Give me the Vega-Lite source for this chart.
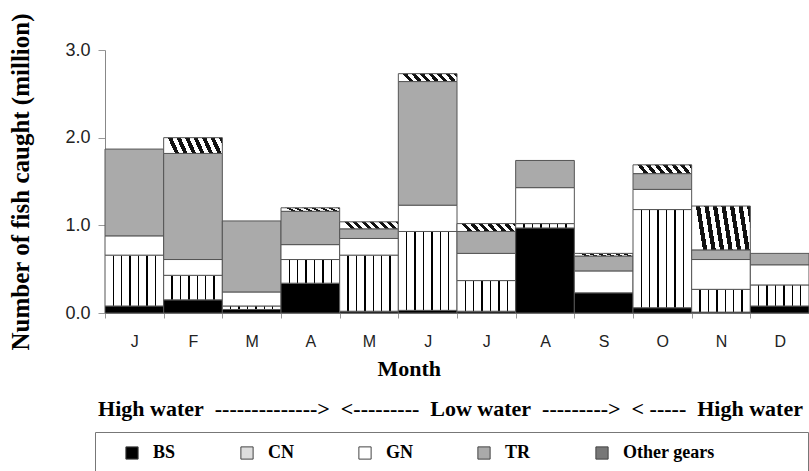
{
  "$schema": "https://vega.github.io/schema/vega-lite/v6.json",
  "width": 704,
  "height": 263,
  "autosize": {"type": "none"},
  "padding": {"left": 105, "top": 50, "right": 0, "bottom": 158},
  "background": "white",
  "config": {"view": {"stroke": null}},
  "data": {
    "values": [
      {"month": "Jan", "gear": "BS", "catch": 0.08},
      {"month": "Jan", "gear": "CN", "catch": 0.58},
      {"month": "Jan", "gear": "GN", "catch": 0.22},
      {"month": "Jan", "gear": "TR", "catch": 0.99},
      {"month": "Feb", "gear": "BS", "catch": 0.15},
      {"month": "Feb", "gear": "CN", "catch": 0.28},
      {"month": "Feb", "gear": "GN", "catch": 0.18},
      {"month": "Feb", "gear": "TR", "catch": 1.21},
      {"month": "Feb", "gear": "Other gears", "catch": 0.18},
      {"month": "Mar", "gear": "BS", "catch": 0.04},
      {"month": "Mar", "gear": "CN", "catch": 0.04},
      {"month": "Mar", "gear": "GN", "catch": 0.16},
      {"month": "Mar", "gear": "TR", "catch": 0.81},
      {"month": "Apr", "gear": "BS", "catch": 0.34},
      {"month": "Apr", "gear": "CN", "catch": 0.27},
      {"month": "Apr", "gear": "GN", "catch": 0.17},
      {"month": "Apr", "gear": "TR", "catch": 0.38},
      {"month": "Apr", "gear": "Other gears", "catch": 0.04},
      {"month": "May", "gear": "BS", "catch": 0.02},
      {"month": "May", "gear": "CN", "catch": 0.64},
      {"month": "May", "gear": "GN", "catch": 0.19},
      {"month": "May", "gear": "TR", "catch": 0.11},
      {"month": "May", "gear": "Other gears", "catch": 0.08},
      {"month": "Jun", "gear": "BS", "catch": 0.03},
      {"month": "Jun", "gear": "CN", "catch": 0.90},
      {"month": "Jun", "gear": "GN", "catch": 0.30},
      {"month": "Jun", "gear": "TR", "catch": 1.41},
      {"month": "Jun", "gear": "Other gears", "catch": 0.09},
      {"month": "Jul", "gear": "BS", "catch": 0.02},
      {"month": "Jul", "gear": "CN", "catch": 0.35},
      {"month": "Jul", "gear": "GN", "catch": 0.31},
      {"month": "Jul", "gear": "TR", "catch": 0.25},
      {"month": "Jul", "gear": "Other gears", "catch": 0.09},
      {"month": "Aug", "gear": "BS", "catch": 0.97},
      {"month": "Aug", "gear": "CN", "catch": 0.05},
      {"month": "Aug", "gear": "GN", "catch": 0.41},
      {"month": "Aug", "gear": "TR", "catch": 0.31},
      {"month": "Sep", "gear": "BS", "catch": 0.23},
      {"month": "Sep", "gear": "GN", "catch": 0.25},
      {"month": "Sep", "gear": "TR", "catch": 0.17},
      {"month": "Sep", "gear": "Other gears", "catch": 0.03},
      {"month": "Oct", "gear": "BS", "catch": 0.06},
      {"month": "Oct", "gear": "CN", "catch": 1.12},
      {"month": "Oct", "gear": "GN", "catch": 0.23},
      {"month": "Oct", "gear": "TR", "catch": 0.18},
      {"month": "Oct", "gear": "Other gears", "catch": 0.10},
      {"month": "Nov", "gear": "BS", "catch": 0.01},
      {"month": "Nov", "gear": "CN", "catch": 0.26},
      {"month": "Nov", "gear": "GN", "catch": 0.34},
      {"month": "Nov", "gear": "TR", "catch": 0.11},
      {"month": "Nov", "gear": "Other gears", "catch": 0.50},
      {"month": "Dec", "gear": "BS", "catch": 0.08},
      {"month": "Dec", "gear": "CN", "catch": 0.24},
      {"month": "Dec", "gear": "GN", "catch": 0.23},
      {"month": "Dec", "gear": "TR", "catch": 0.13}
    ]
  },
  "transform": [
    {"calculate": "indexof(['BS', 'CN', 'GN', 'TR', 'Other gears'], datum.gear)", "as": "gear_order"}
  ],
  "mark": {"type": "bar", "stroke": "#555", "strokeWidth": 1},
  "encoding": {
    "x": {
      "field": "month",
      "type": "nominal",
      "sort": ["Jan","Feb","Mar","Apr","May","Jun","Jul","Aug","Sep","Oct","Nov","Dec"],
      "scale": {"paddingInner": 0, "paddingOuter": 0},
      "axis": {
        "title": ["Month\u00a0\u00a0\u00a0\u00a0\u00a0\u00a0\u00a0\u00a0\u00a0\u00a0\u00a0\u00a0\u00a0\u00a0\u00a0\u200d", "High water\u2002-------------->\u2002<---------\u2002Low water\u2002--------->\u2002< -----\u2002High water"],
        "titleFont": "Liberation Serif",
        "titleFontSize": 22,
        "titleFontWeight": "bold",
        "titleColor": "black",
        "titleX": 345,
        "titleLineHeight": 40,
        "titlePadding": 9,
        "labelExpr": "substring(datum.label, 0, 1)",
        "labelAngle": 0,
        "labelFont": "Liberation Sans",
        "labelFontSize": 16,
        "labelColor": "#222",
        "labelPadding": 15,
        "tickBand": "extent",
        "tickColor": "#999",
        "tickSize": 5,
        "domainColor": "#888"
      }
    },
    "y": {
      "field": "catch",
      "type": "quantitative",
      "stack": "zero",
      "scale": {"domain": [0, 3], "nice": false},
      "axis": {
        "title": "Number of fish caught (million)",
        "titleFont": "Liberation Serif",
        "titleFontSize": 25,
        "titleFontWeight": "bold",
        "titleColor": "black",
        "titlePadding": 31,
        "values": [0, 1, 2, 3],
        "format": ".1f",
        "grid": false,
        "labelFont": "Liberation Sans",
        "labelFontSize": 18,
        "labelColor": "#222",
        "labelPadding": 8,
        "tickColor": "#999",
        "tickSize": 7,
        "domainColor": "#888"
      }
    },
    "order": {"field": "gear_order", "type": "quantitative", "sort": "ascending"},
    "fill": {
      "field": "gear",
      "type": "nominal",
      "sort": ["BS", "CN", "GN", "TR", "Other gears"],
      "condition": [
        {"test": "datum.gear === 'CN'", "value": {"gradient": "linear", "x1": 0, "y1": 0, "x2": 1, "y2": 0, "stops": [
            {"offset": 0, "color": "#ffffff"},
            {"offset": 0.131, "color": "#ffffff"}, {"offset": 0.131, "color": "#000000"},
            {"offset": 0.155, "color": "#000000"}, {"offset": 0.155, "color": "#ffffff"},
            {"offset": 0.274, "color": "#ffffff"}, {"offset": 0.274, "color": "#000000"},
            {"offset": 0.298, "color": "#000000"}, {"offset": 0.298, "color": "#ffffff"},
            {"offset": 0.417, "color": "#ffffff"}, {"offset": 0.417, "color": "#000000"},
            {"offset": 0.441, "color": "#000000"}, {"offset": 0.441, "color": "#ffffff"},
            {"offset": 0.560, "color": "#ffffff"}, {"offset": 0.560, "color": "#000000"},
            {"offset": 0.584, "color": "#000000"}, {"offset": 0.584, "color": "#ffffff"},
            {"offset": 0.702, "color": "#ffffff"}, {"offset": 0.702, "color": "#000000"},
            {"offset": 0.726, "color": "#000000"}, {"offset": 0.726, "color": "#ffffff"},
            {"offset": 0.845, "color": "#ffffff"}, {"offset": 0.845, "color": "#000000"},
            {"offset": 0.869, "color": "#000000"}, {"offset": 0.869, "color": "#ffffff"},
            {"offset": 1, "color": "#ffffff"}
          ]}},
        {"test": "datum.gear === 'Other gears'", "value": {"gradient": "linear", "x1": 0, "y1": 0, "x2": 1, "y2": -0.12, "stops": [
            {"offset": 0, "color": "#ffffff"},
            {"offset": 0.071, "color": "#ffffff"}, {"offset": 0.071, "color": "#111111"},
            {"offset": 0.143, "color": "#111111"}, {"offset": 0.143, "color": "#ffffff"},
            {"offset": 0.214, "color": "#ffffff"}, {"offset": 0.214, "color": "#111111"},
            {"offset": 0.286, "color": "#111111"}, {"offset": 0.286, "color": "#ffffff"},
            {"offset": 0.357, "color": "#ffffff"}, {"offset": 0.357, "color": "#111111"},
            {"offset": 0.429, "color": "#111111"}, {"offset": 0.429, "color": "#ffffff"},
            {"offset": 0.500, "color": "#ffffff"}, {"offset": 0.500, "color": "#111111"},
            {"offset": 0.571, "color": "#111111"}, {"offset": 0.571, "color": "#ffffff"},
            {"offset": 0.643, "color": "#ffffff"}, {"offset": 0.643, "color": "#111111"},
            {"offset": 0.714, "color": "#111111"}, {"offset": 0.714, "color": "#ffffff"},
            {"offset": 0.786, "color": "#ffffff"}, {"offset": 0.786, "color": "#111111"},
            {"offset": 0.857, "color": "#111111"}, {"offset": 0.857, "color": "#ffffff"},
            {"offset": 0.929, "color": "#ffffff"}, {"offset": 0.929, "color": "#111111"},
            {"offset": 1, "color": "#111111"}
          ]}}
      ],
      "scale": {
        "domain": ["BS", "CN", "GN", "TR", "Other gears"],
        "range": ["#000000", "#dddddd", "#ffffff", "#aaaaaa", "#777777"]
      },
      "legend": {
        "orient": "none",
        "legendX": -10,
        "legendY": 382,
        "direction": "horizontal",
        "columns": 5,
        "title": "\u00a0",
        "titleOrient": "left",
        "titleFontSize": 4,
        "titlePadding": 16,
        "padding": 12,
        "strokeColor": "#777",
        "symbolType": "square",
        "symbolSize": 150,
        "symbolStrokeColor": "#444",
        "symbolStrokeWidth": 1,
        "symbolOpacity": 1,
        "labelFont": "Liberation Serif",
        "labelFontSize": 18,
        "labelFontWeight": "bold",
        "labelColor": "black",
        "labelOffset": 12,
        "labelLimit": 400,
        "labelExpr": "datum.label == 'Other gears' ? datum.label + '\u00a0\u00a0\u00a0\u00a0\u00a0\u00a0\u00a0\u00a0\u00a0\u00a0\u00a0\u00a0\u00a0\u00a0\u00a0\u00a0\u00a0\u00a0\u200d' : datum.label",
        "columnPadding": 62
      }
    }
  }
}
